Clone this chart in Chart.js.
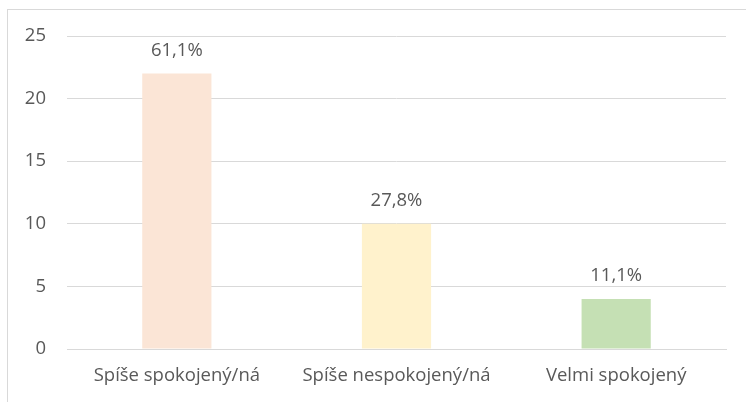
<!DOCTYPE html>
<html>
<head>
<meta charset="utf-8">
<script src="https://cdn.jsdelivr.net/npm/chart.js@4/dist/chart.umd.min.js"></script>
<style>
  html, body { margin: 0; padding: 0; background: #fff; }
  #wrap { position: relative; width: 746px; height: 402px; overflow: hidden; }
  #frame {
    position: absolute; left: 7px; top: 9px; width: 800px; height: 500px;
    border-top: 1px solid #d9d9d9; border-left: 1px solid #d9d9d9;
  }
  canvas { position: absolute; left: 0; top: 0; }
</style>
</head>
<body>
<div id="wrap">
  <div id="frame"></div>
  <canvas id="chart" width="746" height="402"></canvas>
</div>
<script>
// data
const categories = ["Spíše spokojený/ná", "Spíše nespokojený/ná", "Velmi spokojený"];
const counts = [22, 10, 4];
const pctLabels = ["61,1%", "27,8%", "11,1%"];
const barColors = ["#fbe5d6", "#fff2cc", "#c5e0b4"];
const yTicks = [0, 5, 10, 15, 20, 25];

const FONT = "'Open Sans', 'Liberation Sans', sans-serif";
const TEXT = "#595959";

// simple value labels above bars
const barLabels = {
  id: "barLabels",
  afterDatasetsDraw(chart) {
    const { ctx } = chart;
    const meta = chart.getDatasetMeta(0);
    ctx.save();
    ctx.font = `18.5px ${FONT}`;
    ctx.fillStyle = TEXT;
    ctx.textAlign = "center";
    ctx.textBaseline = "middle";
    meta.data.forEach((bar, i) => {
      ctx.fillText(pctLabels[i], bar.x, bar.y - 23);
    });
    ctx.restore();
  }
};

new Chart(document.getElementById("chart"), {
  type: "bar",
  data: {
    labels: categories,
    datasets: [{
      data: counts,
      backgroundColor: barColors,
      barPercentage: 0.315,
      categoryPercentage: 1
    }]
  },
  options: {
    responsive: false,
    animation: false,
    layout: { padding: { top: 36, right: 20, left: 0, bottom: 0 } },
    plugins: { legend: { display: false }, tooltip: { enabled: false } },
    scales: {
      x: {
        grid: { display: false, drawTicks: false },
        border: { display: true, color: "#d9d9d9", width: 1 },
        ticks: { color: TEXT, font: { family: FONT, size: 18.5 }, padding: 16, maxRotation: 0 },
        afterFit(s) { s.height = 53; }
      },
      y: {
        min: 0,
        max: 25,
        afterBuildTicks(s) { s.ticks = yTicks.map(v => ({ value: v })); },
        grid: { color: "#d9d9d9", drawTicks: false },
        border: { display: false },
        ticks: { color: TEXT, font: { family: FONT, size: 18.5 }, padding: 21 },
        afterFit(s) { s.width = 67; }
      }
    }
  },
  plugins: [barLabels]
});
</script>
</body>
</html>
